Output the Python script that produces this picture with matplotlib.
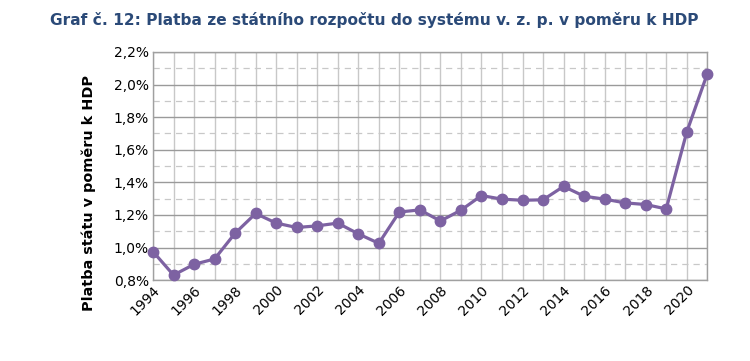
import matplotlib
matplotlib.use("Agg")
import matplotlib.pyplot as plt
from matplotlib.ticker import MultipleLocator, FuncFormatter

years = list(range(1994, 2022))
values = [0.975, 0.831, 0.897, 0.930, 1.088, 1.209, 1.150, 1.123, 1.133, 1.150,
          1.084, 1.026, 1.218, 1.231, 1.163, 1.229, 1.319, 1.297, 1.290, 1.293,
          1.375, 1.315, 1.297, 1.274, 1.264, 1.237, 1.708, 2.066]
title = "Graf č. 12: Platba ze státního rozpočtu do systému v. z. p. v poměru k HDP"
ylabel = "Platba státu v poměru k HDP"

fig = plt.figure(figsize=(7.5, 3.61), dpi=100)
ax = fig.add_axes([0.204, 0.224, 0.739, 0.632])

color = "#7D62A2"
ax.plot(years, values, color=color, lw=2.3, marker="o", ms=7.5, clip_on=False, zorder=5)

ax.set_xlim(1994, 2021)
ax.set_ylim(0.8, 2.2)
ax.xaxis.set_major_locator(MultipleLocator(2))
ax.xaxis.set_minor_locator(MultipleLocator(1))
ax.yaxis.set_major_locator(MultipleLocator(0.2))
ax.yaxis.set_minor_locator(MultipleLocator(0.1))
ax.yaxis.set_major_formatter(FuncFormatter(lambda v, p: f"{v:.1f}%".replace(".", ",")))

ax.grid(True, which="major", axis="y", color="#9a9a9a", lw=1.0)
ax.grid(True, which="minor", axis="y", color="#c8c8c8", lw=0.9, ls=(0, (5, 4)))
ax.grid(True, which="both", axis="x", color="#c8c8c8", lw=1.0)
ax.set_axisbelow(True)

for s in ax.spines.values():
    s.set_color("#a0a0a0")
    s.set_linewidth(1.0)

ax.tick_params(axis="both", which="both", length=0, labelsize=10, colors="black")
ax.tick_params(axis="y", pad=3)
ax.tick_params(axis="x", pad=2)
for lab in ax.get_xticklabels():
    lab.set_rotation(45)
    lab.set_ha("right")
    lab.set_va("top")
    lab.set_rotation_mode("anchor")

fig.text(0.118, 0.465, ylabel, fontsize=10.4, fontweight="bold", rotation=90,
         ha="center", va="center")
fig.text(0.067, 0.945, title, fontsize=11.1, fontweight="bold", color="#2B4A78",
         ha="left", va="center")

fig.savefig("out.png", dpi=100)
